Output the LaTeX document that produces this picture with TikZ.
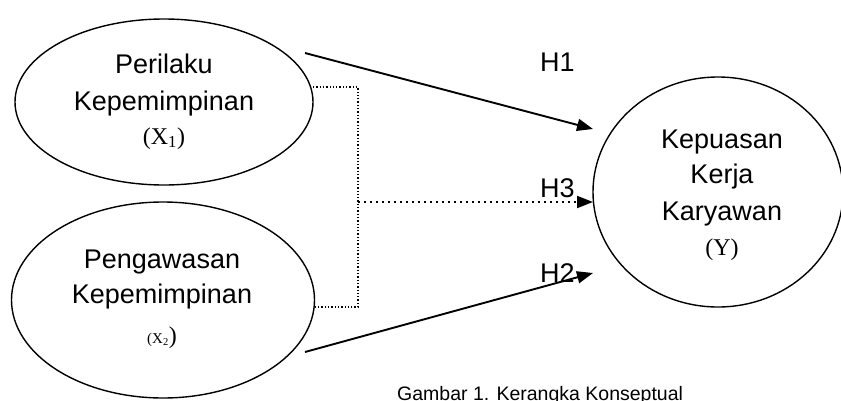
\documentclass[tikz,border=0pt]{standalone}
\usepackage{fontspec}
\setmainfont{Liberation Sans}
\newfontfamily\serifx{Liberation Serif}
\usetikzlibrary{arrows.meta,shapes.geometric}

\begin{document}
\begin{tikzpicture}[x=1pt,y=-1pt,
  construct/.style={draw, ellipse, line width=1.4pt, inner sep=0pt},
  txt/.style={anchor=base, inner sep=0pt, font=\fontsize{27}{32}\selectfont},
  sym/.style={anchor=base, inner sep=0pt, font=\serifx\fontsize{24}{28}\selectfont},
  hyp/.style={anchor=base west, inner sep=0pt, font=\fontsize{27}{32}\selectfont},
  effect/.style={line width=1.9pt, -{Triangle[length=16pt,width=12pt]}},
  joint/.style={line width=1.3pt, dash pattern=on 1.3pt off 2pt},
  jointeffect/.style={line width=2pt, dash pattern=on 2pt off 4pt, -{Triangle[length=16pt,width=12pt]}}]

\useasboundingbox (0,0) rectangle (841,400);

% constructs
\node[construct, minimum width=298pt, minimum height=166pt] (x1) at (164,102) {};
\node[construct, minimum width=303pt, minimum height=196pt] (x2) at (163,300) {};
\node[construct, minimum width=250pt, minimum height=230pt] (y) at (718,192) {};

% texts of X1
\node[txt] (x1a) at (164,73) {Perilaku};
\node[txt] (x1b) at (164,110) {Kepemimpinan};
\node[sym] (x1c) at (164,144) {(X\textsubscript{1})};

% texts of X2
\node[txt] (x2a) at (162,268) {Pengawasan};
\node[txt] (x2b) at (162,303) {Kepemimpinan};
\node[sym] (x2c) at (162,343) {{\fontsize{15}{18}\selectfont(X\textsubscript{2}}{\fontsize{24}{28}\selectfont)}};

% texts of Y
\node[txt] (ya) at (722,148) {Kepuasan};
\node[txt] (yb) at (722,183) {Kerja};
\node[txt] (yc) at (722,220) {Karyawan};
\node[sym] (yd) at (722,255) {(Y)};

% connector end points
\coordinate (h1s) at (305,53);
\coordinate (h1e) at (593,129);
\coordinate (h2s) at (305,352);
\coordinate (h2e) at (593,273);
\coordinate (j1) at (313,87);
\coordinate (j2) at (313,307);
\coordinate (jm) at (358,202);
\coordinate (h3e) at (593,202);

% direct effects
\draw[effect] (h1s) -- (h1e);
\draw[effect] (h2s) -- (h2e);

% joint effect
\draw[joint] (j1) -- (jm |- j1) -- (jm |- j2) -- (j2);
\draw[jointeffect] (jm) -- (h3e);

% hypothesis labels
\node[hyp] (l1) at (540,71) {H1};
\node[hyp] (l3) at (540,197) {H3};
\node[hyp] (l2) at (540,282) {H2};

% caption
\node[anchor=base west, inner sep=0pt, font=\fontsize{19.5}{23}\selectfont] (cap) at (397,400) {Gambar 1. Kerangka Konseptual};
\end{tikzpicture}
\end{document}
